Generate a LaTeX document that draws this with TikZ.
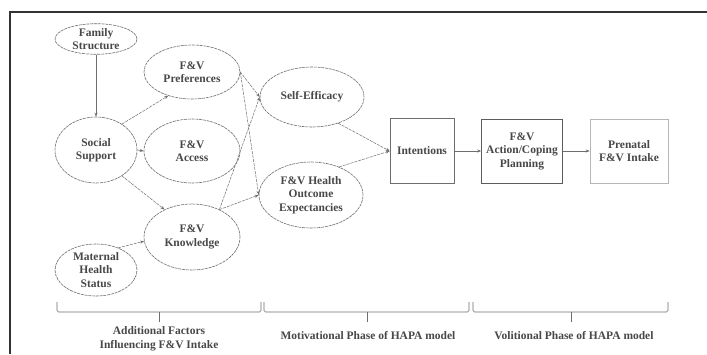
\documentclass[tikz,border=0pt]{standalone}
\usepackage{fontspec}
\setmainfont{Liberation Serif}
\usetikzlibrary{shapes.geometric,arrows.meta}
\definecolor{txt}{HTML}{484848}
\definecolor{ln}{HTML}{6E6E6E}
\definecolor{frm}{HTML}{333333}
\tikzset{
  oval/.style={ellipse, draw=ln, line width=0.6pt, dash pattern=on 3pt off 0.8pt, inner sep=0pt, align=center, text=txt, font=\bfseries\fontsize{11.5}{13.5}\selectfont},
  sqbox/.style={rectangle, draw=ln, line width=0.7pt, inner sep=0pt, align=center, text=txt, font=\bfseries\fontsize{11.5}{13.5}\selectfont},
  conn/.style={draw=ln, line width=0.5pt, -{Stealth[length=4pt,width=3pt]}},
  dconn/.style={conn, dash pattern=on 3pt off 1pt},
  brk/.style={draw=ln, line width=0.6pt, rounded corners=1.5pt},
  lbl/.style={text=txt, align=center, font=\bfseries\fontsize{11.5}{14}\selectfont, inner sep=0pt}
}
\begin{document}
\begin{tikzpicture}[x=1pt,y=-1pt]
\useasboundingbox (0,0) rectangle (707,354);
\fill[white] (0,0) rectangle (707,354);
% frame
\draw[frm, line width=1.8pt] (10,354) -- (10,12) -- (707,12);
% ellipses
\node[oval, minimum width=82pt, minimum height=30pt] (fs) at (96,39) {Family\\Structure};
\node[oval, minimum width=96pt, minimum height=54pt] (pref) at (192,72) {F\&V\\Preferences};
\node[oval, minimum width=82pt, minimum height=66pt] (ss) at (96,150) {Social\\Support};
\node[oval, minimum width=96pt, minimum height=64pt] (acc) at (192,151) {F\&V\\Access};
\node[oval, minimum width=96pt, minimum height=66pt] (know) at (192,237) {F\&V\\Knowledge};
\node[oval, minimum width=82pt, minimum height=52pt] (mhs) at (96,270) {Maternal\\Health\\Status};
\node[oval, minimum width=104pt, minimum height=60pt] (se) at (312,97) {Self-Efficacy};
\node[oval, minimum width=104pt, minimum height=66pt] (oe) at (311,195) {F\&V Health\\Outcome\\Expectancies};
% boxes
\node[sqbox, minimum width=64pt, minimum height=65pt] (int) at (422,151) {Intentions};
\node[sqbox, draw=frm!80, minimum width=81pt, minimum height=64pt] (act) at (522,151) {F\&V\\Action/Coping\\Planning};
\node[sqbox, draw=ln!50, minimum width=78pt, minimum height=64pt] (pre) at (629,151) {Prenatal\\F\&V Intake};
% connectors
\draw[conn] (fs.south) -- (ss.north);
\draw[dconn] (ss.45) -- (pref.225);
\draw[conn] (ss.east) -- (acc.west);
\draw[dconn] (ss.-45) -- (know.135);
\draw[dconn] (mhs.45) -- (know.185);
\draw[dconn] (pref.east) -- (se.west);
\draw[dconn] (pref.east) -- (oe.west);
\draw[dconn] (know.45) -- (se.west);
\draw[dconn] (know.45) -- (oe.west);
\draw[dconn] (se.-45) -- (int.west);
\draw[dconn] (oe.45) -- (int.west);
\draw[conn] (int.east) -- (act.west);
\draw[conn] (act.east) -- (pre.west);
% brackets
\coordinate (b1) at (159,322);
\coordinate (b2) at (367,322);
\coordinate (b3) at (571,322);
\draw[brk] (57,302) -- (57,312) -- (261,312) -- (261,302);
\draw[brk] (b1) -- (159,312);
\draw[brk] (264,302) -- (264,312) -- (469,312) -- (469,302);
\draw[brk] (b2) -- (367,312);
\draw[brk] (473,302) -- (473,312) -- (668,312) -- (668,302);
\draw[brk] (b3) -- (571,312);
% labels
\node[lbl] (l1) at (159,339) {Additional Factors\\Influencing F\&V Intake};
\node[lbl] (l2) at (368,336) {Motivational Phase of HAPA model};
\node[lbl] (l3) at (574,336) {Volitional Phase of HAPA model};
\end{tikzpicture}
\end{document}
